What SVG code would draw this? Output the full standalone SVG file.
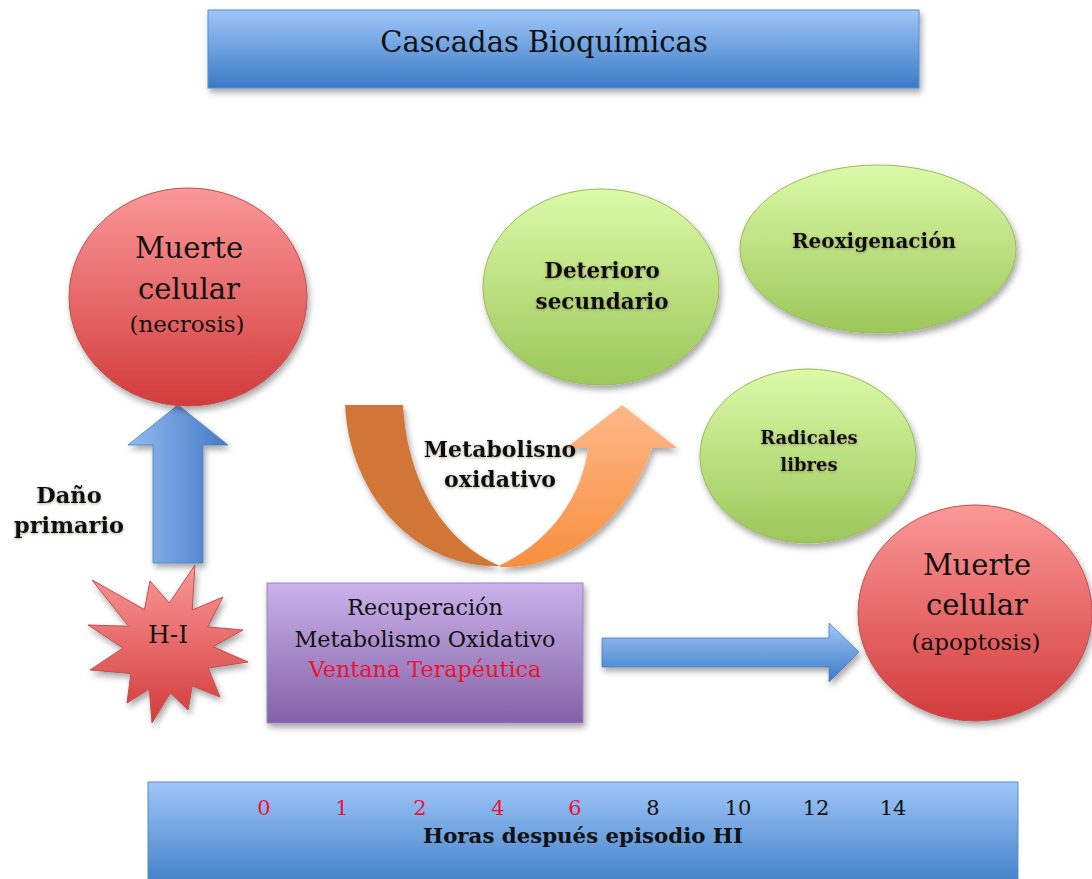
<svg xmlns="http://www.w3.org/2000/svg" width="1092" height="879" viewBox="0 0 1092 879">
<defs>
  <linearGradient id="gBlueV" x1="0" y1="0" x2="0" y2="1">
    <stop offset="0" stop-color="#a0c6f8"/>
    <stop offset="1" stop-color="#3a7bc6"/>
  </linearGradient>
  <linearGradient id="gBlueH" x1="0" y1="0" x2="1" y2="0">
    <stop offset="0" stop-color="#92bcf2"/>
    <stop offset="1" stop-color="#4479c4"/>
  </linearGradient>
  <linearGradient id="gRed" x1="0" y1="0" x2="0" y2="1">
    <stop offset="0" stop-color="#fb9898"/>
    <stop offset="1" stop-color="#d33b3b"/>
  </linearGradient>
  <linearGradient id="gGreen" x1="0" y1="0" x2="0" y2="1">
    <stop offset="0" stop-color="#dcfaa8"/>
    <stop offset="1" stop-color="#9bc75a"/>
  </linearGradient>
  <linearGradient id="gPurple" x1="0" y1="0" x2="0" y2="1">
    <stop offset="0" stop-color="#cbb2ea"/>
    <stop offset="1" stop-color="#8262a6"/>
  </linearGradient>
  <linearGradient id="gOrange" x1="0" y1="0" x2="0" y2="1">
    <stop offset="0" stop-color="#fdb888"/>
    <stop offset="1" stop-color="#f88f40"/>
  </linearGradient>
  <filter id="sh" x="-10%" y="-10%" width="130%" height="130%">
    <feDropShadow dx="2" dy="4" stdDeviation="3" flood-color="#000" flood-opacity="0.35"/>
  </filter>
  <filter id="tg" x="-10%" y="-30%" width="120%" height="160%">
    <feDropShadow dx="0" dy="1" stdDeviation="1.5" flood-color="#7a6a50" flood-opacity="0.6"/>
  </filter>
</defs>
<style>
  .t { font-family: "DejaVu Serif", "Liberation Serif", serif; fill: #111; text-anchor: middle; }
  .b { font-weight: bold; }
  .red { fill: #ee1133; }
  .rc { fill: url(#gRed); stroke: #c0504d; stroke-width: 1; filter: url(#sh); }
  .gc { fill: url(#gGreen); stroke: #9bbb59; stroke-width: 1; filter: url(#sh); }
</style>
<rect width="1092" height="879" fill="#fff"/>

<g id="title">
  <rect x="208" y="10" width="711" height="78" fill="url(#gBlueV)" stroke="#5b8ccc" stroke-width="1" filter="url(#sh)"/>
  <text class="t" x="544" y="52" font-size="29">Cascadas Bioquímicas</text>
</g>

<g id="connectors">
  <path id="arrow-up" d="M178,405 L228,445 L203,445 L203,563 L153,563 L153,445 L128,445 Z" fill="url(#gBlueH)" stroke="#4a7fc0" stroke-width="0.8" filter="url(#sh)"/>
  <path id="arrow-right" d="M602,638 L829,638 L829,623 L859,652 L829,682 L829,667 L602,667 Z" fill="url(#gBlueV)" stroke="#4a7fc0" stroke-width="0.8" filter="url(#sh)"/>
  <g id="u-arrow" filter="url(#sh)">
    <path d="M345,405 L403,405 C408,490 450,545 500,566 C420,569 350,500 345,405 Z" fill="#d27637"/>
    <path d="M500,567 C575,570 632,510 652,448 L677,448 L622,405 L566,448 L588,448 C582,500 545,545 500,565 Z" fill="url(#gOrange)"/>
  </g>
  <g filter="url(#tg)">
    <text class="t b" x="500" y="457" font-size="22">Metabolisno</text>
    <text class="t b" x="500" y="487" font-size="22">oxidativo</text>
  </g>
  <g filter="url(#tg)">
    <text class="t b" x="69" y="503" font-size="22.5">Daño</text>
    <text class="t b" x="69" y="533" font-size="22.5">primario</text>
  </g>
</g>

<g id="necrosis">
  <ellipse class="rc" cx="188" cy="297" rx="119" ry="109"/>
  <text class="t" x="189" y="258" font-size="29">Muerte</text>
  <text class="t" x="189" y="299" font-size="29">celular</text>
  <text class="t" x="187" y="332" font-size="23">(necrosis)</text>
</g>

<g id="hi">
  <polygon class="rc" points="92,580 144.5,609.6 150,581 169.2,603 195,565 192.2,610 223,597 207.7,626.9 243,630 213,646.6 248,662 208.3,668 220,697 192.2,686 188,710 170.4,692.9 152,723 149.3,689 127,703 130.9,673.5 90,670 123,648 88,625 128.6,626.2"/>
  <text class="t" x="168" y="643" font-size="25">H-I</text>
</g>

<g id="recuperacion">
  <rect x="267" y="583" width="316" height="140" fill="url(#gPurple)" stroke="#9b85c0" stroke-width="1" filter="url(#sh)"/>
  <text class="t" x="425" y="615" font-size="22.3">Recuperación</text>
  <text class="t" x="425" y="647" font-size="22.3">Metabolismo Oxidativo</text>
  <text class="t red" x="425" y="677" font-size="22.3">Ventana Terapéutica</text>
</g>

<g id="deterioro">
  <ellipse class="gc" cx="601" cy="287" rx="118" ry="98"/>
  <text class="t b" x="602" y="278" font-size="21.5" filter="url(#tg)">Deterioro</text>
  <text class="t b" x="602" y="309" font-size="21.5" filter="url(#tg)">secundario</text>
</g>

<g id="reoxigenacion">
  <ellipse class="gc" cx="878" cy="249" rx="138" ry="84"/>
  <text class="t b" x="874" y="248" font-size="20" filter="url(#tg)">Reoxigenación</text>
</g>

<g id="radicales">
  <ellipse class="gc" cx="808" cy="456" rx="108" ry="87"/>
  <text class="t b" x="809" y="444" font-size="18" filter="url(#tg)">Radicales</text>
  <text class="t b" x="809" y="471" font-size="18" filter="url(#tg)">libres</text>
</g>

<g id="apoptosis">
  <ellipse class="rc" cx="975" cy="613" rx="117" ry="108"/>
  <text class="t" x="977" y="575" font-size="29">Muerte</text>
  <text class="t" x="977" y="615" font-size="29">celular</text>
  <text class="t" x="976" y="650" font-size="23">(apoptosis)</text>
</g>

<g id="timeline">
  <rect x="148" y="782" width="870" height="110" fill="url(#gBlueV)" stroke="#5b8ccc" stroke-width="1"/>
  <text class="t red" x="264" y="815" font-size="21">0</text>
  <text class="t red" x="342" y="815" font-size="21">1</text>
  <text class="t red" x="420" y="815" font-size="21">2</text>
  <text class="t red" x="498" y="815" font-size="21">4</text>
  <text class="t red" x="575" y="815" font-size="21">6</text>
  <text class="t" x="653" y="815" font-size="21">8</text>
  <text class="t" x="738" y="815" font-size="21">10</text>
  <text class="t" x="816" y="815" font-size="21">12</text>
  <text class="t" x="893" y="815" font-size="21">14</text>
  <text class="t b" x="583" y="843" font-size="21.3">Horas después episodio HI</text>
</g>
</svg>
